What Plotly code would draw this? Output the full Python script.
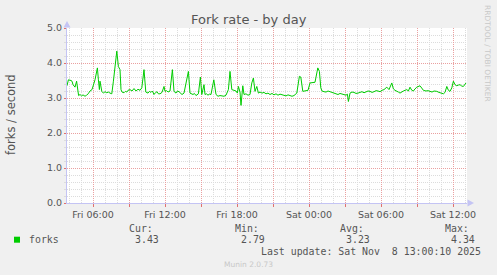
import plotly.graph_objects as go

# ---- data ----
fri_times = ["03:50", "03:57", "04:10", "04:15", "04:20", "04:30", "04:38", "04:42", "04:48", "04:55",
             "05:03", "05:10", "05:20", "05:28", "05:36", "05:45", "05:55", "06:10", "06:22", "06:27",
             "06:32", "06:35", "06:44", "06:52", "07:00", "07:09", "07:17", "07:25", "07:34", "07:42",
             "07:50", "07:59", "08:07", "08:15", "08:20", "08:25", "08:35", "08:42", "08:49", "08:55",
             "09:05", "09:15", "09:25", "09:35", "09:45", "09:55", "10:04", "10:15", "10:24", "10:35",
             "10:42", "10:50", "10:57", "11:05", "11:12", "11:20", "11:27", "11:35", "11:45", "11:55",
             "12:00", "12:08", "12:15", "12:25", "12:37", "12:45", "12:55", "13:02", "13:10", "13:17",
             "13:25", "13:35", "13:49", "13:57", "14:05", "14:12", "14:20", "14:27", "14:35", "14:47",
             "14:57", "15:04", "15:15", "15:20", "15:27", "15:35", "15:42", "15:50", "16:04", "16:15",
             "16:25", "16:35", "16:45", "16:55", "17:05", "17:17", "17:25", "17:34", "17:45", "17:55",
             "18:02", "18:07", "18:15", "18:20", "18:29", "18:35", "18:45", "18:55", "19:05", "19:14",
             "19:22", "19:30", "19:39", "19:47", "19:55", "20:05", "20:15", "20:25", "20:35", "20:45",
             "20:55", "21:05", "21:15", "21:25", "21:35", "21:45", "21:55", "22:05", "22:15", "22:25",
             "22:35", "22:45", "22:59", "23:12", "23:19", "23:29", "23:40", "23:55"]
fri_forks = [3.35, 3.52, 3.50, 3.48, 3.38, 3.31, 3.48, 3.29, 3.07, 3.10,
             3.06, 3.09, 3.05, 3.08, 3.12, 3.20, 3.24, 3.52, 3.86, 3.52,
             3.24, 3.48, 3.19, 3.14, 3.18, 3.15, 3.17, 3.14, 3.12, 3.48,
             3.90, 4.34, 3.90, 3.81, 3.24, 3.17, 3.15, 3.19, 3.17, 3.22,
             3.24, 3.20, 3.27, 3.20, 3.25, 3.22, 3.29, 3.81, 3.17, 3.14,
             3.19, 3.16, 3.20, 3.10, 3.15, 3.18, 3.12, 3.12, 3.16, 3.33,
             3.19, 3.21, 3.17, 3.20, 3.81, 3.19, 3.14, 3.20, 3.18, 3.13,
             3.10, 3.14, 3.52, 3.76, 3.14, 3.11, 3.10, 3.13, 3.07, 3.12,
             3.60, 3.10, 3.38, 3.10, 3.12, 3.08, 3.11, 3.10, 3.52, 3.10,
             3.05, 3.07, 3.06, 3.05, 3.08, 3.24, 3.76, 3.24, 3.22, 3.20,
             3.14, 3.33, 3.17, 2.79, 3.35, 3.10, 3.12, 3.08, 3.10, 3.43,
             3.57, 3.19, 3.33, 3.14, 3.17, 3.14, 3.16, 3.12, 3.14, 3.10,
             3.13, 3.09, 3.12, 3.08, 3.11, 3.09, 3.07, 3.06, 3.09, 3.08,
             3.05, 3.07, 3.14, 3.62, 3.60, 3.19, 3.20, 3.22]
sat_times = ["00:05", "00:30", "00:44", "00:52", "00:59", "01:05", "01:15", "01:25", "01:35", "01:45",
             "01:55", "02:05", "02:15", "02:25", "02:35", "02:45", "02:55", "03:05", "03:12", "03:17",
             "03:25", "03:35", "03:45", "03:55", "04:05", "04:15", "04:25", "04:35", "04:45", "04:55",
             "05:05", "05:15", "05:25", "05:35", "05:45", "05:55", "06:05", "06:15", "06:29", "06:40",
             "06:54", "07:02", "07:10", "07:19", "07:27", "07:35", "07:44", "07:52", "08:00", "08:09",
             "08:17", "08:25", "08:34", "08:42", "08:50", "08:59", "09:15", "09:32", "09:45", "09:55",
             "10:05", "10:15", "10:25", "10:39", "10:50", "11:04", "11:12", "11:20", "11:29", "11:37",
             "11:45", "11:54", "12:02", "12:10", "12:19", "12:27", "12:35", "12:44", "12:52", "13:05"]
sat_forks = [3.43, 3.45, 3.86, 3.76, 3.29, 3.20, 3.18, 3.17, 3.20, 3.19,
             3.16, 3.14, 3.12, 3.10, 3.13, 3.12, 3.09, 3.08, 3.11, 2.90,
             3.14, 3.17, 3.16, 3.13, 3.14, 3.17, 3.18, 3.15, 3.17, 3.20,
             3.19, 3.16, 3.18, 3.21, 3.20, 3.18, 3.22, 3.24, 3.31, 3.24,
             3.43, 3.26, 3.22, 3.20, 3.17, 3.14, 3.18, 3.20, 3.22, 3.24,
             3.20, 3.31, 3.22, 3.20, 3.26, 3.31, 3.35, 3.22, 3.20, 3.21,
             3.19, 3.17, 3.20, 3.19, 3.16, 3.14, 3.12, 3.16, 3.33, 3.22,
             3.19, 3.29, 3.48, 3.38, 3.35, 3.37, 3.38, 3.34, 3.33, 3.43]

x_range = ["2025-11-07 03:50", "2025-11-08 13:10"]
tick_vals = ["2025-11-07 06:00", "2025-11-07 09:00", "2025-11-07 12:00", "2025-11-07 15:00",
             "2025-11-07 18:00", "2025-11-07 21:00", "2025-11-08 00:00", "2025-11-08 03:00",
             "2025-11-08 06:00", "2025-11-08 09:00", "2025-11-08 12:00"]
tick_text = ["Fri 06:00", "", "Fri 12:00", "", "Fri 18:00", "", "Sat 00:00", "",
             "Sat 06:00", "", "Sat 12:00"]
minor_x_hours = ["2025-11-07 04:00", "2025-11-07 05:00", "2025-11-07 07:00", "2025-11-07 08:00",
                 "2025-11-07 10:00", "2025-11-07 11:00", "2025-11-07 13:00", "2025-11-07 14:00",
                 "2025-11-07 16:00", "2025-11-07 17:00", "2025-11-07 19:00", "2025-11-07 20:00",
                 "2025-11-07 22:00", "2025-11-07 23:00", "2025-11-08 01:00", "2025-11-08 02:00",
                 "2025-11-08 04:00", "2025-11-08 05:00", "2025-11-08 07:00", "2025-11-08 08:00",
                 "2025-11-08 10:00", "2025-11-08 11:00", "2025-11-08 13:00"]
y_ticks = [0, 1, 2, 3, 4, 5]
y_tick_text = ["0.0", "1.0", "2.0", "3.0", "4.0", "5.0"]
minor_y = [0.2, 0.4, 0.6, 0.8, 1.2, 1.4, 1.6, 1.8, 2.2, 2.4, 2.6, 2.8,
           3.2, 3.4, 3.6, 3.8, 4.2, 4.4, 4.6, 4.8]

legend_name = "forks"
stat_labels = ["Cur:", "Min:", "Avg:", "Max:"]
stat_values = ["3.43", "2.79", "3.23", "4.34"]

times = ["2025-11-07 " + t for t in fri_times] + ["2025-11-08 " + t for t in sat_times]
forks = fri_forks + sat_forks

# ---- geometry helpers (pixel -> paper) ----
W, H = 497, 275
L, R, T, B = 67, 467, 28, 203


def px(x):
    return (x - L) / (R - L)


def py(y):
    return (B - y) / (B - T)


SANS = "DejaVu Sans"
MONO = "DejaVu Sans Mono"
TXT = "#555555"
AXIS = "#c4c4f4"
MGRID = "#eaa0a0"
GRID = "#dcdcdc"

fig = go.Figure()
fig.add_trace(go.Scatter(x=times, y=forks, mode="lines",
                         line=dict(color="#00cc00", width=1), hoverinfo="skip",
                         showlegend=False))

fig.update_layout(
    width=W, height=H,
    margin=dict(l=L, r=W - R, t=T, b=H - B),
    paper_bgcolor="#f0f0f0", plot_bgcolor="#ffffff",
    showlegend=False,
    xaxis=dict(type="date", range=x_range, tickmode="array", tickvals=tick_vals,
               ticktext=tick_text, showgrid=True, gridcolor=MGRID, griddash="1px,1px",
               gridwidth=1, ticks="outside", ticklen=3, tickcolor="#e07070",
               tickfont=dict(family=SANS, size=9.5, color=TXT),
               showline=True, linecolor=AXIS, linewidth=1, zeroline=False,
               minor=dict(tickmode="array", tickvals=minor_x_hours,
                          showgrid=True, gridcolor=GRID, griddash="1px,1px", ticks=""),
               fixedrange=True),
    yaxis=dict(range=[0, 5], tickmode="array", tickvals=y_ticks, ticktext=y_tick_text,
               showgrid=True, gridcolor=MGRID, griddash="1px,1px", gridwidth=1,
               ticks="outside", ticklen=2, tickcolor="#e07070",
               tickfont=dict(family=SANS, size=9.5, color=TXT),
               showline=True, linecolor=AXIS, linewidth=1, zeroline=False,
               minor=dict(tickmode="array", tickvals=minor_y, showgrid=True,
                          gridcolor=GRID, griddash="1px,1px",
                          ticks="outside", ticklen=2, tickcolor=GRID),
               fixedrange=True),
)

ann = []


def text(x, y, s, size, color=TXT, family=SANS, xanchor="center", angle=0):
    ann.append(dict(x=px(x), y=py(y), xref="paper", yref="paper", text=s,
                    showarrow=False, xanchor=xanchor, yanchor="middle",
                    textangle=angle, font=dict(family=family, size=size, color=color)))


text(248.5, 20, "Fork rate - by day", 13)
text(10.5, 114.5, "forks / second", 11.5, angle=-90)
text(488, 53, "RRDTOOL / TOBI OETIKER", 7.5, color="#c8c8c8", angle=90)
text(27, 239.5, legend_name, 9.9, family=MONO, xanchor="left")
label_right = [154.5, 260.5, 365.5, 470.5]
value_right = [161, 267, 372, 477]
for lab, val, lr, vr in zip(stat_labels, stat_values, label_right, value_right):
    text(lr, 228, lab, 9.9, family=MONO, xanchor="right")
    text(vr, 239.5, val, 9.9, family=MONO, xanchor="right")
text(482.5, 251, "Last update: Sat Nov&nbsp;&nbsp;8 13:00:10 2025", 9.9, family=MONO,
     xanchor="right")
text(248, 264, "Munin 2.0.73", 7.5, color="#c8c8c8")

shapes = [
    # legend colour box
    dict(type="rect", xref="paper", yref="paper", x0=px(14), x1=px(20), y0=py(242.7),
         y1=py(236.7), fillcolor="#00cc00", line=dict(width=0)),
    # axis arrows
    dict(type="path", xref="paper", yref="paper",
         path=f"M {px(67)},{py(21)} L {px(63.5)},{py(27.5)} L {px(70.5)},{py(27.5)} Z",
         fillcolor=AXIS, line=dict(width=0)),
    dict(type="path", xref="paper", yref="paper",
         path=f"M {px(474)},{py(203)} L {px(467.5)},{py(199.5)} L {px(467.5)},{py(206.5)} Z",
         fillcolor=AXIS, line=dict(width=0)),
]

fig.update_layout(annotations=ann, shapes=shapes)
fig.write_html("out.html")
